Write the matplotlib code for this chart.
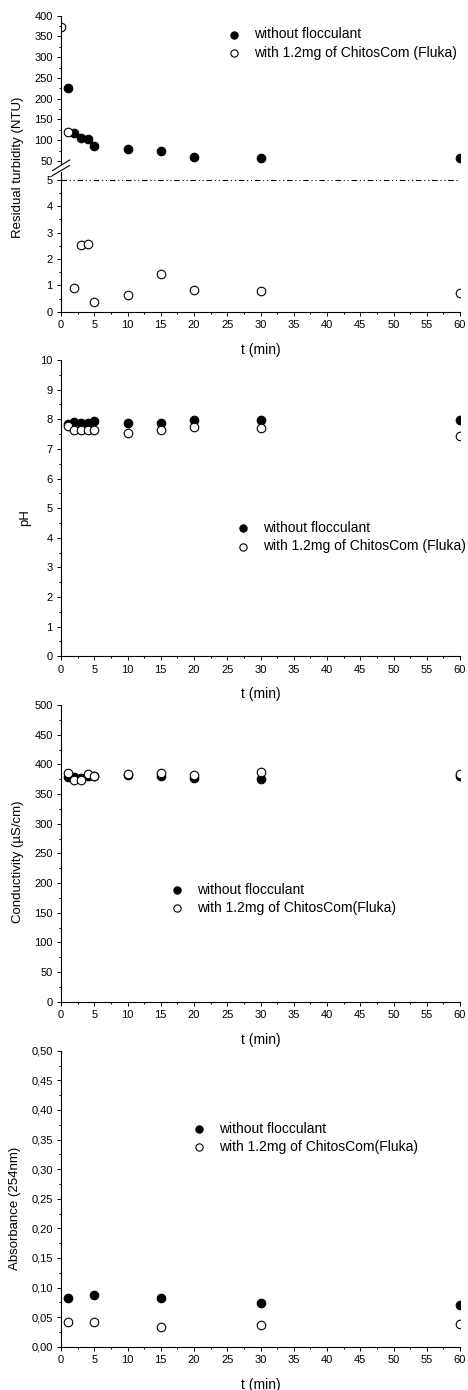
import matplotlib
matplotlib.use('Agg')
from matplotlib import pyplot as plt, ticker

plt.rcParams['font.family'] = ['Liberation Sans', 'DejaVu Sans']

# turbidity (NTU)
t_turb = [1, 2, 3, 4, 5, 10, 15, 20, 30, 60]
turb_without = [226, 117, 105, 104, 85, 80, 74, 60, 58, 57]
t_turb_with = [0, 1, 2, 3, 4, 5, 10, 15, 20, 30, 60]
turb_with = [372, 120, 0.90, 2.53, 2.58, 0.35, 0.63, 1.42, 0.83, 0.78, 0.69]
turb_limit = 5

# pH
t_ph = [1, 2, 3, 4, 5, 10, 15, 20, 30, 60]
ph_without = [7.84, 7.92, 7.89, 7.87, 7.94, 7.87, 7.88, 7.98, 7.98, 7.96]
ph_with = [7.76, 7.64, 7.64, 7.64, 7.64, 7.55, 7.63, 7.73, 7.70, 7.43]

# conductivity (uS/cm)
t_cond = [1, 2, 3, 4, 5, 10, 15, 20, 30, 60]
cond_without = [379, 379, 377, 381, 381, 382, 380, 377, 375, 380]
cond_with = [385, 374, 374, 384, 381, 384, 385, 382, 387, 383]

# absorbance (254nm)
t_abs = [1, 5, 15, 30, 60]
abs_without = [0.083, 0.087, 0.083, 0.073, 0.070]
abs_with = [0.042, 0.041, 0.033, 0.036, 0.038]

label_without = 'without flocculant'
label_with_a = 'with 1.2mg of ChitosCom (Fluka)'
label_with_b = 'with 1.2mg of ChitosCom(Fluka)'

FIG_W, FIG_H = 468, 1390
fig = plt.figure(figsize=(FIG_W / 100, FIG_H / 100), dpi=100)


def px_axes(top, bottom, left=61, right=460):
    return fig.add_axes([left / FIG_W, 1 - bottom / FIG_H,
                         (right - left) / FIG_W, (bottom - top) / FIG_H])


def style(ax, major, minor, xaxis=True):
    for s in ['top', 'right']:
        ax.spines[s].set_visible(False)
    for s in ['left', 'bottom']:
        ax.spines[s].set_linewidth(0.8)
    ax.set_xlim(0, 60)
    ax.xaxis.set_major_locator(ticker.MultipleLocator(5))
    ax.xaxis.set_minor_locator(ticker.MultipleLocator(2.5))
    ax.yaxis.set_major_locator(ticker.MultipleLocator(major))
    ax.yaxis.set_minor_locator(ticker.MultipleLocator(minor))
    ax.tick_params(which='major', direction='out', length=3, width=0.7, labelsize=8, pad=3)
    ax.tick_params(which='minor', direction='out', length=1.6, width=0.7)
    if xaxis:
        h = ax.get_position().height * FIG_H
        ax.set_xlabel('t (min)', fontsize=10, va='top')
        ax.xaxis.set_label_coords(0.5, -31 / h)
    else:
        ax.spines['bottom'].set_visible(False)
        ax.tick_params(axis='x', which='both', bottom=False, labelbottom=False)


def plot_pair(ax, t1, y1, t2, y2):
    # scatter so that points on the frame get cut like in the original
    h1 = ax.scatter(t1, y1, s=38, marker='o', facecolors='black', edgecolors='black', linewidths=0.8)
    h2 = ax.scatter(t2, y2, s=38, marker='o', facecolors='white', edgecolors='black', linewidths=0.8)
    return h1, h2


def add_legend(ax, handles, labels, mx, my):
    fs = 10
    hl = 1.0
    left = mx - hl * fs * 100 / 72 / 2
    ax.legend(handles, labels, loc='center left', bbox_to_anchor=(left / FIG_W, 1 - my / FIG_H),
              bbox_transform=fig.transFigure, frameon=False, fontsize=fs, handlelength=hl,
              handletextpad=0.95, labelspacing=0.3, borderpad=0, borderaxespad=0,
              markerscale=0.85, scatterpoints=1)


def ylabel(text, x, y):
    fig.text(x / FIG_W, 1 - y / FIG_H, text, rotation=90, ha='center', va='center', fontsize=9.5)


# panel 1: residual turbidity with broken axis
ax_up = px_axes(15.7, 164)
ax_lo = px_axes(171.8, 311.7)
for ax in (ax_up, ax_lo):
    h = plot_pair(ax, t_turb, turb_without, t_turb_with, turb_with)
ax_up.set_ylim(42.8, 400)
ax_lo.set_ylim(0, 5.3)
style(ax_up, 50, 25, xaxis=False)
style(ax_lo, 1, 0.5)
ax_lo.axhline(turb_limit, color='black', lw=0.8, dashes=[5, 2.5, 1, 2.5, 1, 2.5])
d = 0.018
kw = dict(color='black', lw=0.8, clip_on=False)
ax_up.plot([-d * 1.2, d * 1.2], [-d * 2.5, d * 1.5], transform=ax_up.transAxes, **kw)
ax_lo.plot([-d * 1.2, d * 1.2], [1 - d * 1.5, 1 + d * 2.5], transform=ax_lo.transAxes, **kw)
add_legend(ax_up, h, [label_without, label_with_a], 234, 43.5)
ylabel('Residual turbidity (NTU)', 18, 167.5)

# panel 2: pH
ax_ph = px_axes(360, 656.3)
h = plot_pair(ax_ph, t_ph, ph_without, t_ph, ph_with)
ax_ph.set_ylim(0, 10)
style(ax_ph, 1, 0.5)
add_legend(ax_ph, h, [label_without, label_with_a], 243, 537.2)
ylabel('pH', 25, 517.7)

# panel 3: conductivity
ax_c = px_axes(705, 1001.7)
h = plot_pair(ax_c, t_cond, cond_without, t_cond, cond_with)
ax_c.set_ylim(0, 500)
style(ax_c, 50, 25)
add_legend(ax_c, h, [label_without, label_with_b], 177, 898.9)
ylabel('Conductivity (µS/cm)', 18.3, 861.7)

# panel 4: absorbance
ax_a = px_axes(1050.7, 1346.7)
h = plot_pair(ax_a, t_abs, abs_without, t_abs, abs_with)
ax_a.set_ylim(0, 0.5)
style(ax_a, 0.05, 0.025)
ax_a.yaxis.set_major_formatter(ticker.FuncFormatter(lambda v, pos: f'{v:.2f}'.replace('.', ',')))
add_legend(ax_a, h, [label_without, label_with_b], 199, 1138)
ylabel('Absorbance (254nm)', 15, 1208)

fig.savefig('out.png', dpi=100)
